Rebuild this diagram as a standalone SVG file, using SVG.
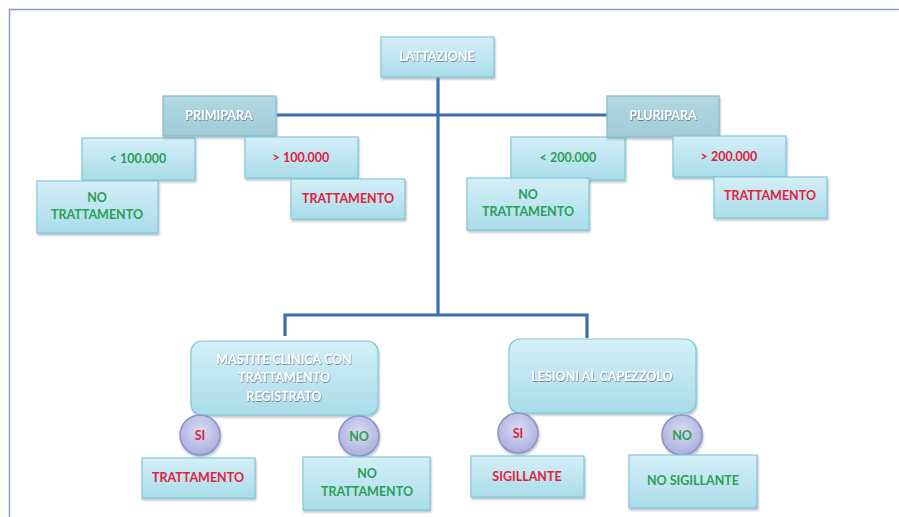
<svg xmlns="http://www.w3.org/2000/svg" width="899" height="517" viewBox="0 0 899 517">
<style>
.box{fill:url(#gBox);stroke:#86c6d8;stroke-width:1.2;filter:url(#sh)}
.hdr{fill:url(#gHdr);stroke:#8bbccb;stroke-width:1.2;filter:url(#sh)}
.circ{fill:url(#gCirc);stroke:#8d93c9;stroke-width:1.5;filter:url(#sh)}
text{font-family:Lato,"Open Sans","Liberation Sans",sans-serif;font-weight:bold;font-size:12.5px;text-anchor:middle}
.w{fill:#ffffff;filter:url(#tsh)}
.g{fill:#2a9f55}
.r{fill:#e2213d}
.conn{fill:none;stroke:#3a6db3;stroke-width:3.2;stroke-linejoin:miter}
</style>
<defs>
<linearGradient id="gBox" x1="0" y1="0" x2="0" y2="1"><stop offset="0" stop-color="#d4eff7"/><stop offset="1" stop-color="#a9dcea"/></linearGradient>
<linearGradient id="gHdr" x1="0" y1="0" x2="0" y2="1"><stop offset="0" stop-color="#b3d9e2"/><stop offset="1" stop-color="#9fcbd6"/></linearGradient>
<radialGradient id="gCirc" cx="0.5" cy="0.4" r="0.6"><stop offset="0" stop-color="#dadcf2"/><stop offset="1" stop-color="#aab0de"/></radialGradient>
<filter id="sh" x="-10%" y="-10%" width="130%" height="140%"><feDropShadow dx="1" dy="2" stdDeviation="1.2" flood-color="#6a8a96" flood-opacity="0.5"/></filter>
<filter id="tsh" x="-10%" y="-30%" width="120%" height="160%"><feDropShadow dx="0.5" dy="0.8" stdDeviation="0.6" flood-color="#456" flood-opacity="0.8"/></filter>
</defs>
<rect width="899" height="517" fill="#ffffff"/>
<path d="M9.5 517 V9.5 H899" fill="none" stroke="#8d97d0" stroke-width="1.5"/>
<g id="connectors">
<path class="conn" d="M438 77 V315"/>
<path class="conn" d="M277 115 H607"/>
<path class="conn" d="M285 336 V315 H587 V338"/>
</g>
<g id="lattazione"><rect class="box" x="381" y="37" width="113" height="40"/><text class="w" x="437" y="57" dy=".35em">LATTAZIONE</text></g>
<g id="primipara-lt"><rect class="box" x="82" y="138" width="113" height="42"/><text class="g" x="138" y="159" dy=".35em">&lt; 100.000</text></g>
<g id="primipara"><rect class="hdr" x="163" y="96" width="113" height="40"/><text class="w" x="219" y="116" dy=".35em">PRIMIPARA</text></g>
<g id="primipara-gt"><rect class="box" x="245" y="137" width="113" height="41"/><text class="r" x="301" y="158" dy=".35em">&gt; 100.000</text></g>
<g id="primipara-no"><rect class="box" x="37" y="181" width="121" height="52"/><text class="g" x="97" y="198" dy=".35em">NO</text><text class="g" x="97" y="215" dy=".35em">TRATTAMENTO</text></g>
<g id="primipara-tr"><rect class="box" x="291" y="179" width="114" height="40"/><text class="r" x="348" y="199" dy=".35em">TRATTAMENTO</text></g>
<g id="pluripara-lt"><rect class="box" x="511" y="137" width="114" height="43"/><text class="g" x="568" y="158" dy=".35em">&lt; 200.000</text></g>
<g id="pluripara"><rect class="hdr" x="607" y="96" width="112" height="41"/><text class="w" x="663" y="116" dy=".35em">PLURIPARA</text></g>
<g id="pluripara-gt"><rect class="box" x="673" y="136" width="113" height="41"/><text class="r" x="729" y="157" dy=".35em">&gt; 200.000</text></g>
<g id="pluripara-no"><rect class="box" x="467" y="178" width="122" height="52"/><text class="g" x="528" y="195" dy=".35em">NO</text><text class="g" x="528" y="212" dy=".35em">TRATTAMENTO</text></g>
<g id="pluripara-tr"><rect class="box" x="714" y="177" width="113" height="41"/><text class="r" x="770" y="196" dy=".35em">TRATTAMENTO</text></g>
<g id="mastite"><rect class="box" x="191" y="341" width="187" height="74" rx="11"/><text class="w" x="284" y="360" dy=".35em">MASTITE CLINICA CON</text><text class="w" x="284" y="378" dy=".35em">TRATTAMENTO</text><text class="w" x="284" y="397" dy=".35em">REGISTRATO</text></g>
<g id="lesioni"><rect class="box" x="509" y="339" width="187" height="74" rx="11"/><text class="w" x="602" y="377" dy=".35em">LESIONI AL CAPEZZOLO</text></g>
<g id="mastite-si"><circle class="circ" cx="200" cy="435" r="20"/><text class="r" x="200" y="436" dy=".35em">SI</text></g>
<g id="mastite-no"><circle class="circ" cx="359" cy="436" r="20"/><text class="g" x="359" y="437" dy=".35em">NO</text></g>
<g id="lesioni-si"><circle class="circ" cx="518" cy="433" r="20"/><text class="r" x="518" y="434" dy=".35em">SI</text></g>
<g id="lesioni-no"><circle class="circ" cx="682" cy="435" r="20"/><text class="g" x="682" y="436" dy=".35em">NO</text></g>
<g id="mastite-tr"><rect class="box" x="142" y="458" width="113" height="40"/><text class="r" x="198" y="478" dy=".35em">TRATTAMENTO</text></g>
<g id="mastite-notr"><rect class="box" x="303" y="457" width="127" height="53"/><text class="g" x="367" y="474" dy=".35em">NO</text><text class="g" x="367" y="492" dy=".35em">TRATTAMENTO</text></g>
<g id="sigillante"><rect class="box" x="471" y="456" width="113" height="41"/><text class="r" x="527" y="477" dy=".35em">SIGILLANTE</text></g>
<g id="no-sigillante"><rect class="box" x="629" y="455" width="128" height="53"/><text class="g" x="693" y="481" dy=".35em">NO SIGILLANTE</text></g>
</svg>
